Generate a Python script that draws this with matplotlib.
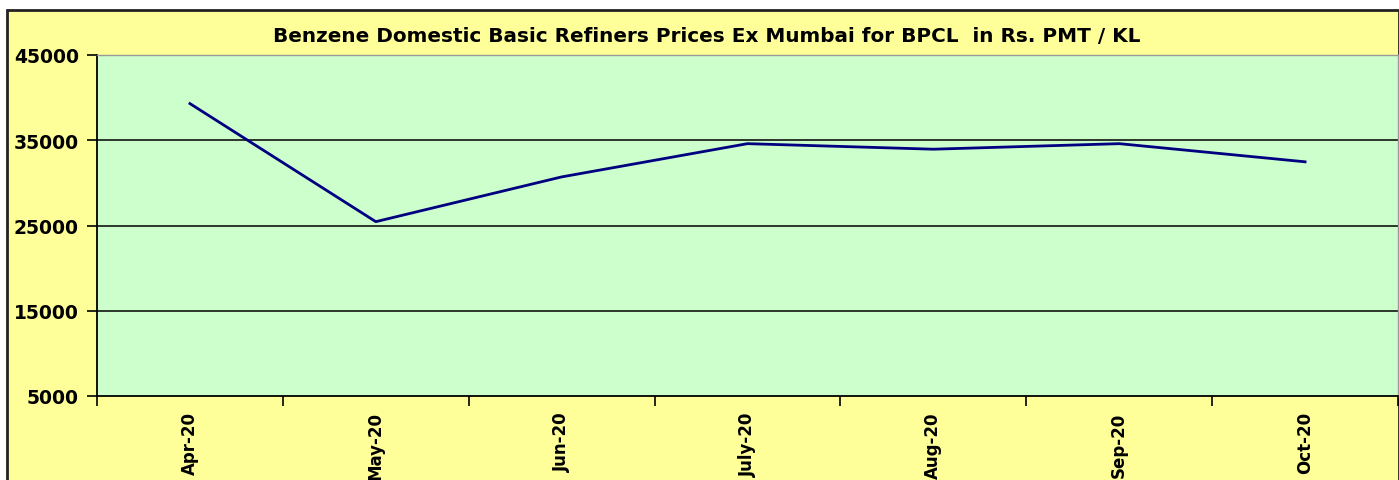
import numpy as np
import matplotlib
matplotlib.use("Agg")
import matplotlib.pyplot as plt
from matplotlib.patches import Rectangle

# Daten
months = ["Apr-20", "May-20", "Jun-20", "July-20", "Aug-20", "Sep-20", "Oct-20"]
prices = [39300, 25450, 30700, 34600, 33950, 34600, 32470]
y_ticks = [5000, 15000, 25000, 35000, 45000]

W, H = 1399, 481
fig = plt.figure(figsize=(W / 100, H / 100), dpi=100)
fig.patch.set_facecolor("white")

# gelber Rahmen
fig.patches.append(Rectangle((7 / W, -0.05), (W - 7) / W, (H - 11) / H + 0.05,
                             transform=fig.transFigure, facecolor="#FFFF99",
                             edgecolor="#222222", linewidth=2, zorder=-5))

ax = fig.add_axes([97 / W, 1 - 397 / H, (1398 - 97) / W, (397 - 56) / H])
ax.set_facecolor("#CCFFCC")

x = np.arange(len(months))
ax.plot(x, prices, color="#000080", linewidth=2.0, zorder=3)

ax.set_xlim(-0.5, len(months) - 0.5)
ax.set_ylim(5000, 45000)
ax.set_yticks(y_ticks)
ax.set_yticklabels([str(v) for v in y_ticks], fontsize=13.5, fontweight="bold")
for v in y_ticks[1:-1]:
    ax.axhline(v, color="black", linewidth=1.1, zorder=1)

# Kategorien mit Ticks dazwischen
ax.set_xticks(np.arange(len(months) + 1) - 0.5)
ax.set_xticklabels([])
ax.set_xticks(x, minor=True)
ax.set_xticklabels(months, minor=True, rotation=90, fontsize=12, fontweight="bold")
ax.tick_params(axis="x", which="minor", length=0, pad=11)
ax.tick_params(axis="x", which="major", length=7, width=1.2, direction="out")
ax.tick_params(axis="y", length=7, width=1.2, direction="out", pad=6)

for s in ["left", "bottom"]:
    ax.spines[s].set_color("black")
    ax.spines[s].set_linewidth(1.3)
for s in ["top", "right"]:
    ax.spines[s].set_color("#999999")
    ax.spines[s].set_linewidth(1.0)

fig.text(707 / W, 1 - 37 / H,
         "Benzene Domestic Basic Refiners Prices Ex Mumbai for BPCL  in Rs. PMT / KL",
         ha="center", va="center", fontsize=14.4, fontweight="bold")

fig.savefig("out.png", dpi=100, facecolor=fig.get_facecolor())
